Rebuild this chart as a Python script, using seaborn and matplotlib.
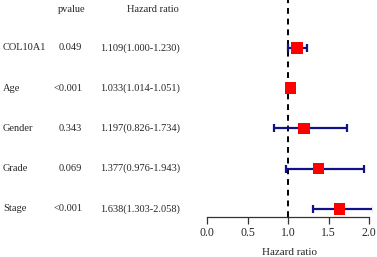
import numpy as np
import pandas as pd
import seaborn as sns
import matplotlib.pyplot as plt
from matplotlib.transforms import blended_transform_factory

# forest plot data
genes = ["COL10A1", "Age", "Gender", "Grade", "Stage"]
pvals = ["0.049", "<0.001", "0.343", "0.069", "<0.001"]
hr = [1.109, 1.033, 1.197, 1.377, 1.638]
lower = [1.000, 1.014, 0.826, 0.976, 1.303]
upper = [1.230, 1.051, 1.734, 1.943, 2.058]
hr_text = ["1.109(1.000-1.230)", "1.033(1.014-1.051)", "1.197(0.826-1.734)",
           "1.377(0.976-1.943)", "1.638(1.303-2.058)"]
xticks = [0.0, 0.5, 1.0, 1.5, 2.0]

df = pd.DataFrame({"gene": genes, "hr": hr, "lo": lower, "hi": upper,
                   "row": np.arange(len(genes))})

sns.set_style("white")
plt.rcParams['font.family'] = ['Liberation Serif', 'DejaVu Serif']

fig = plt.figure(figsize=(3.77, 2.57), dpi=100)
ax = fig.add_axes([207/377, 40/257, 165/377, 217/257])

ax.errorbar(df.hr, df.row, xerr=[df.hr - df.lo, df.hi - df.hr], fmt="none",
            ecolor="#10128a", elinewidth=1.6, capsize=3, capthick=1.6, zorder=2)
sns.scatterplot(data=df, x="hr", y="row", marker="s", s=70, color="red",
                edgecolor="none", ax=ax, zorder=3, legend=False)
ax.axvline(1.0, color="black", linestyle=(0, (3, 2.5)), linewidth=1.4, zorder=1)

ax.set_xlim(0, 2.0 * 165 / 162)
ax.set_ylim(4.2, -1.19)
ax.set_xticks(xticks)
ax.set_xticklabels([f"{t:.1f}" for t in xticks], fontsize=8.5)
ax.set_yticks([])
for s in ["top", "right", "left"]:
    ax.spines[s].set_visible(False)
ax.spines["bottom"].set_bounds(0, 2.0)
ax.spines["bottom"].set_color("#333333")
ax.spines["bottom"].set_linewidth(0.9)
ax.tick_params(axis="x", bottom=True, direction="out", length=5, width=0.9,
               color="#333333", pad=2)
ax.set_xlabel("Hazard ratio", fontsize=8, labelpad=7)
ax.set_ylabel("")

tr = blended_transform_factory(fig.transFigure, ax.transData)
head_y = -0.95
ax.text(72/377, head_y, "pvalue", transform=tr, ha="center", va="center", fontsize=7.5)
ax.text(153/377, head_y, "Hazard ratio", transform=tr, ha="center", va="center", fontsize=7.5)
for i in range(len(genes)):
    ax.text(3/377, i, genes[i], transform=tr, ha="left", va="center", fontsize=7.5)
    ax.text(82/377, i, pvals[i], transform=tr, ha="right", va="center", fontsize=7.5)
    ax.text(100/377, i, hr_text[i], transform=tr, ha="left", va="center", fontsize=7.5)

fig.savefig("out.png", dpi=100)
